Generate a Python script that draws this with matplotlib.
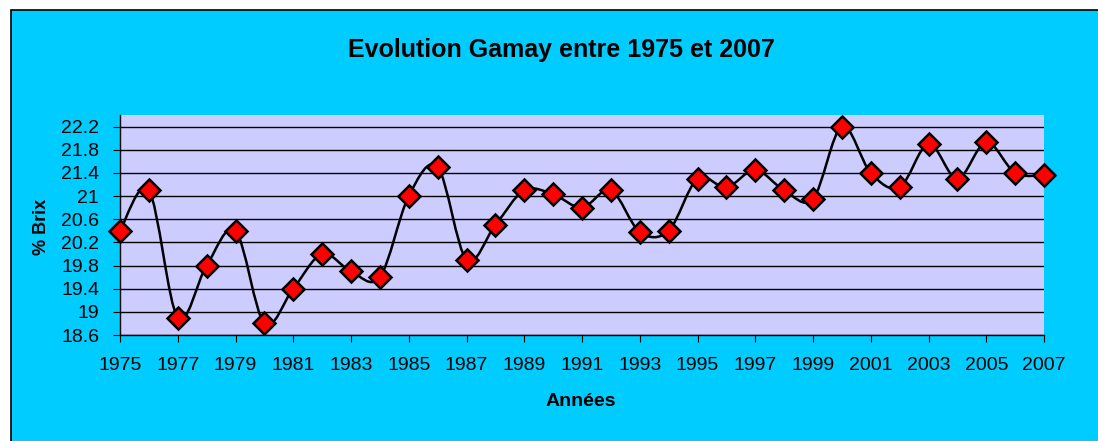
import matplotlib
matplotlib.use("Agg")
import matplotlib.pyplot as plt
from matplotlib.path import Path
from matplotlib.patches import PathPatch, Rectangle

# donnees
annees = list(range(1975, 2008))
brix = [20.4, 21.1, 18.9, 19.8, 20.4, 18.8, 19.4, 20.0, 19.7, 19.6,
        21.0, 21.5, 19.9, 20.5, 21.1, 21.03, 20.8, 21.1, 20.38, 20.4,
        21.3, 21.15, 21.45, 21.1, 20.95, 22.2, 21.4, 21.15, 21.9, 21.3,
        21.93, 21.4, 21.36]
yticks = [18.6, 19.0, 19.4, 19.8, 20.2, 20.6, 21.0, 21.4, 21.8, 22.2]
xticks = list(range(1975, 2008, 2))

plt.rcParams['font.family'] = ['Liberation Sans', 'DejaVu Sans']

W, H = 1098, 441
fig = plt.figure(figsize=(W / 100, H / 100), dpi=100)
fig.patch.set_facecolor('white')

# fond cyan avec bord noir
fond = Rectangle((11 / W, -0.05), 1.2, (H - 10) / H + 0.05, transform=fig.transFigure,
                 facecolor='#00CCFF', edgecolor='black', linewidth=1.2, zorder=-5)
fig.patches.append(fond)

ax = fig.add_axes([120 / W, (H - 335) / H, (1044 - 120) / W, (335 - 115) / H])
ax.set_facecolor('#CCCCFF')
ax.set_xlim(1975, 2007)
ax.set_ylim(18.6, 22.4)
ax.set_yticks(yticks)
ax.set_yticklabels(['{:g}'.format(v) for v in yticks])
ax.set_xticks(xticks)
ax.set_xticklabels([str(a) for a in xticks])
ax.yaxis.grid(True, color='black', linewidth=1.0)
ax.set_axisbelow(True)
for s in ['top', 'right']:
    ax.spines[s].set_visible(False)
ax.spines['left'].set_linewidth(1.0)
ax.spines['bottom'].set_linewidth(1.0)
ax.tick_params(axis='y', direction='out', length=5, pad=10, labelsize=14)
ax.tick_params(axis='x', direction='out', length=5, pad=11, labelsize=14)

# courbe lissee (beziers comme Excel)
pts = list(zip(annees, brix))
verts = [pts[0]]
codes = [Path.MOVETO]
for i in range(len(pts) - 1):
    p0 = pts[i - 1] if i > 0 else pts[i]
    p1 = pts[i]
    p2 = pts[i + 1]
    p3 = pts[i + 2] if i + 2 < len(pts) else pts[i + 1]
    c1 = (p1[0] + (p2[0] - p0[0]) / 6, p1[1] + (p2[1] - p0[1]) / 6)
    c2 = (p2[0] - (p3[0] - p1[0]) / 6, p2[1] - (p3[1] - p1[1]) / 6)
    verts += [c1, c2, p2]
    codes += [Path.CURVE4] * 3
ax.add_patch(PathPatch(Path(verts, codes), facecolor='none', edgecolor='black',
                       linewidth=1.8, zorder=3, clip_on=False))

ax.plot(annees, brix, linestyle='none', marker='D', markersize=11,
        markerfacecolor='#FF0000', markeredgecolor='black', markeredgewidth=1.8,
        zorder=4, clip_on=False)

fig.text(561 / W, 1 - 50 / H, 'Evolution Gamay entre 1975 et 2007', ha='center', va='center',
         fontsize=18, fontweight='bold')
fig.text(581 / W, 1 - 401 / H, 'Années', ha='center', va='center',
         fontsize=14, fontweight='bold')
fig.text(42 / W, 1 - 227 / H, '% Brix', ha='center', va='center', rotation=90,
         fontsize=13, fontweight='bold')

fig.savefig('out.png', dpi=100)
